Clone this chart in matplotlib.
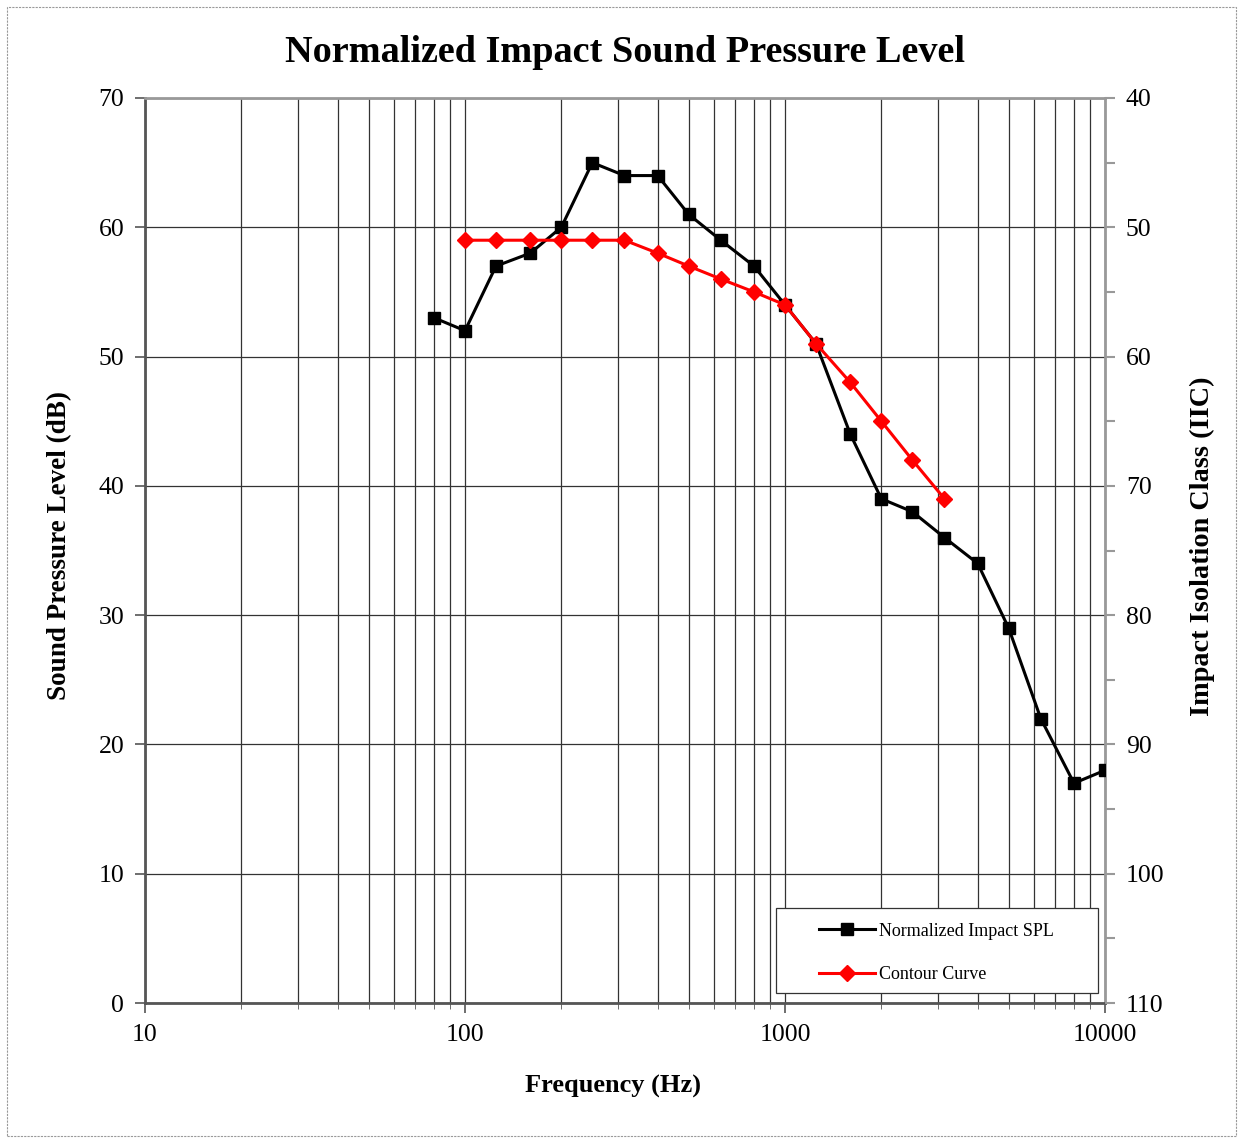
import matplotlib
matplotlib.use('Agg')
import matplotlib.pyplot as plt
from matplotlib.ticker import FixedLocator, NullFormatter, MultipleLocator
from matplotlib.patches import Rectangle

# 1/3 octave band data
freq_spl = [80, 100, 125, 160, 200, 250, 315, 400, 500, 630, 800, 1000,
            1250, 1600, 2000, 2500, 3150, 4000, 5000, 6300, 8000, 10000]
spl = [53, 52, 57, 58, 60, 65, 64, 64, 61, 59, 57, 54,
       51, 44, 39, 38, 36, 34, 29, 22, 17, 18]

freq_contour = [100, 125, 160, 200, 250, 315, 400, 500, 630, 800, 1000,
                1250, 1600, 2000, 2500, 3150]
contour = [59, 59, 59, 59, 59, 59, 58, 57, 56, 55, 54, 51, 48, 45, 42, 39]

x_ticks = [10, 100, 1000, 10000]
x_ticklabels = ['10', '100', '1000', '10000']

plt.rcParams['font.family'] = ['Liberation Serif', 'DejaVu Serif']

fig = plt.figure(figsize=(12.43, 11.41), dpi=100)
ax = fig.add_axes([145 / 1243, 1 - 1003 / 1141, 960 / 1243, 905 / 1141])

# dashed outer frame
fig.patches.append(Rectangle((7 / 1243, 1 - 1136 / 1141), 1229 / 1243, 1129 / 1141,
                             transform=fig.transFigure, fill=False,
                             ec='#999999', lw=0.8, ls=(0, (2, 1))))

ax.plot(freq_spl, spl, color='black', marker='s', ms=8.5, lw=2.2,
        label='Normalized Impact SPL', zorder=4)
ax.plot(freq_contour, contour, color='#ff0000', marker='D', ms=8, lw=2.2,
        label='Contour Curve', zorder=5)

ax.set_xscale('log')
ax.set_xlim(10, 10000)
ax.set_ylim(0, 70)
ax.xaxis.set_major_locator(FixedLocator(x_ticks))
ax.set_xticklabels(x_ticklabels)
minors = [m * d for d in (10, 100, 1000) for m in range(2, 10)]
ax.xaxis.set_minor_locator(FixedLocator(minors))
ax.xaxis.set_minor_formatter(NullFormatter())
ax.yaxis.set_major_locator(MultipleLocator(10))

ax.grid(True, which='both', axis='x', color='#333333', lw=0.9)
ax.grid(True, which='major', axis='y', color='#333333', lw=0.9)
ax.set_axisbelow(True)

for s in ('left', 'bottom'):
    ax.spines[s].set_color('#555555')
    ax.spines[s].set_linewidth(2)
for s in ('top', 'right'):
    ax.spines[s].set_color('#999999')
    ax.spines[s].set_linewidth(2)

ax.tick_params(axis='both', which='major', labelsize=18.5, length=7, width=1.2,
               color='#555555', pad=8)
ax.tick_params(axis='x', which='minor', length=4, color='#555555')

ax2 = ax.twinx()
ax2.set_ylim(110, 40)
ax2.yaxis.set_major_locator(MultipleLocator(10))
ax2.yaxis.set_minor_locator(MultipleLocator(5))
ax2.tick_params(axis='y', which='major', labelsize=18.5, length=7, width=1.5,
                color='#999999', pad=8)
ax2.tick_params(axis='y', which='minor', length=7, width=1.5, color='#999999')
for s in ax2.spines.values():
    s.set_visible(False)

ax.set_title('Normalized Impact Sound Pressure Level', fontsize=27.5,
             fontweight='bold', pad=26)
ax.set_xlabel('Frequency (Hz)', fontsize=19, fontweight='bold')
ax.xaxis.set_label_coords(0.4875, -0.079)
ax.set_ylabel('Sound Pressure Level (dB)', fontsize=19.5, fontweight='bold')
ax.yaxis.set_label_coords(-0.0763, 0.505)
ax2.set_ylabel('Impact Isolation Class (IIC)', fontsize=20.3, fontweight='bold')
ax2.yaxis.set_label_coords(1.0884, 0.505)

# legend frame drawn separately so the entries can sit inside a wider box
ax.add_patch(Rectangle((0.657, 0.011), 0.3357, 0.094, transform=ax.transAxes,
                       fill=True, fc='white', ec='#333333', lw=0.9, zorder=6))
leg = ax.legend(loc='center left', bbox_to_anchor=(0.702, 0.0555), fontsize=13,
                frameon=False, handlelength=3.1, labelspacing=1.45, borderpad=0,
                borderaxespad=0, handletextpad=0.2)
leg.set_zorder(7)

fig.savefig('out.png', dpi=100)
